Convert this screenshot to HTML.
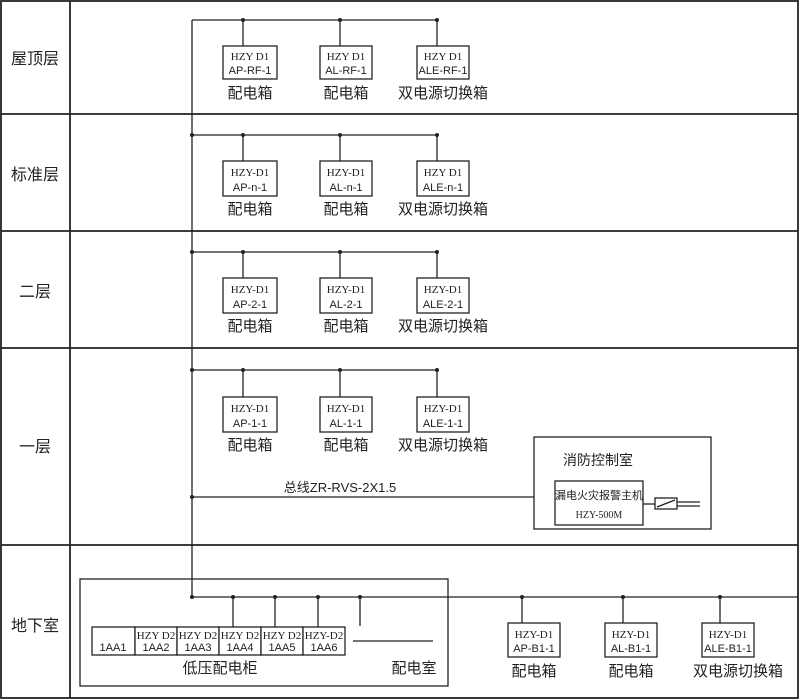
<!DOCTYPE html>
<html><head><meta charset="utf-8"><style>
html,body{margin:0;padding:0;background:#fff;}
svg{display:block;}
text{font-family:"Liberation Sans","Noto Sans CJK SC",sans-serif;fill:#222;}
.s{font-family:"Liberation Serif","Noto Serif CJK SC",serif;font-size:11px;}
.n{font-size:11px;}
.c{font-size:15px;}
.f{font-size:16px;}
</style></head><body>
<svg width="800" height="700" viewBox="0 0 800 700" xmlns="http://www.w3.org/2000/svg">
<g stroke="#222" stroke-width="1.8" fill="none">
<rect x="1" y="1" width="797" height="697"/>
<line x1="70" y1="1" x2="70" y2="698"/>
<line x1="1" y1="114" x2="798" y2="114"/>
<line x1="1" y1="231" x2="798" y2="231"/>
<line x1="1" y1="348" x2="798" y2="348"/>
<line x1="1" y1="545" x2="798" y2="545"/>
</g>
<g stroke="#222" stroke-width="1.3" fill="none">
<line x1="192" y1="20" x2="192" y2="597"/>
<line x1="192" y1="20" x2="437" y2="20"/>
<line x1="192" y1="135" x2="437" y2="135"/>
<line x1="192" y1="252" x2="437" y2="252"/>
<line x1="192" y1="370" x2="437" y2="370"/>
<line x1="192" y1="497" x2="555" y2="497"/>
<line x1="192" y1="597" x2="798" y2="597"/>
</g>
<g fill="#222">
<circle cx="243" cy="20" r="2"/><circle cx="340" cy="20" r="2"/><circle cx="437" cy="20" r="2"/>
<circle cx="192" cy="135" r="2"/><circle cx="243" cy="135" r="2"/><circle cx="340" cy="135" r="2"/><circle cx="437" cy="135" r="2"/>
<circle cx="192" cy="252" r="2"/><circle cx="243" cy="252" r="2"/><circle cx="340" cy="252" r="2"/><circle cx="437" cy="252" r="2"/>
<circle cx="192" cy="370" r="2"/><circle cx="243" cy="370" r="2"/><circle cx="340" cy="370" r="2"/><circle cx="437" cy="370" r="2"/>
<circle cx="192" cy="497" r="2"/>
<circle cx="192" cy="597" r="2"/><circle cx="233" cy="597" r="2"/><circle cx="275" cy="597" r="2"/><circle cx="318" cy="597" r="2"/><circle cx="360" cy="597" r="2"/>
<circle cx="522" cy="597" r="2"/><circle cx="623" cy="597" r="2"/><circle cx="720" cy="597" r="2"/>
</g>
<g stroke="#222" stroke-width="1.3" fill="#fff">
<line x1="243" y1="20" x2="243" y2="46"/><line x1="340" y1="20" x2="340" y2="46"/><line x1="437" y1="20" x2="437" y2="46"/>
<rect x="223" y="46" width="54" height="33"/><rect x="320" y="46" width="52" height="33"/><rect x="417" y="46" width="52" height="33"/>
<line x1="243" y1="135" x2="243" y2="161"/><line x1="340" y1="135" x2="340" y2="161"/><line x1="437" y1="135" x2="437" y2="161"/>
<rect x="223" y="161" width="54" height="35"/><rect x="320" y="161" width="52" height="35"/><rect x="417" y="161" width="52" height="35"/>
<line x1="243" y1="252" x2="243" y2="278"/><line x1="340" y1="252" x2="340" y2="278"/><line x1="437" y1="252" x2="437" y2="278"/>
<rect x="223" y="278" width="54" height="35"/><rect x="320" y="278" width="52" height="35"/><rect x="417" y="278" width="52" height="35"/>
<line x1="243" y1="370" x2="243" y2="397"/><line x1="340" y1="370" x2="340" y2="397"/><line x1="437" y1="370" x2="437" y2="397"/>
<rect x="223" y="397" width="54" height="35"/><rect x="320" y="397" width="52" height="35"/><rect x="417" y="397" width="52" height="35"/>
<rect x="534" y="437" width="177" height="92"/>
<rect x="555" y="481" width="88" height="44"/>
<line x1="643" y1="504" x2="655" y2="504"/>
<rect x="655" y="498" width="22" height="11"/>
<line x1="657" y1="507" x2="675" y2="500"/>
<line x1="677" y1="502" x2="700" y2="502"/><line x1="677" y1="506" x2="700" y2="506"/>
<rect x="80" y="579" width="368" height="107" fill="none"/>
<line x1="233" y1="597" x2="233" y2="627"/><line x1="275" y1="597" x2="275" y2="627"/><line x1="318" y1="597" x2="318" y2="627"/><line x1="360" y1="597" x2="360" y2="626"/>
<rect x="92" y="627" width="43" height="28"/><rect x="135" y="627" width="42" height="28"/><rect x="177" y="627" width="42" height="28"/><rect x="219" y="627" width="42" height="28"/><rect x="261" y="627" width="42" height="28"/><rect x="303" y="627" width="42" height="28"/>
<line x1="353" y1="641" x2="433" y2="641"/>
<line x1="522" y1="597" x2="522" y2="623"/><line x1="623" y1="597" x2="623" y2="623"/><line x1="720" y1="597" x2="720" y2="623"/>
<rect x="508" y="623" width="52" height="34"/><rect x="605" y="623" width="52" height="34"/><rect x="702" y="623" width="52" height="34"/>
</g>
<g text-anchor="middle">
<text x="35" y="64" class="f">屋顶层</text>
<text x="35" y="180" class="f">标准层</text>
<text x="35" y="297" class="f">二层</text>
<text x="35" y="452" class="f">一层</text>
<text x="35" y="631" class="f">地下室</text>

<text x="250" y="60" class="s">HZY D1</text><text x="250" y="74" class="n">AP-RF-1</text>
<text x="346" y="60" class="s">HZY D1</text><text x="346" y="74" class="n">AL-RF-1</text>
<text x="443" y="60" class="s">HZY D1</text><text x="443" y="74" class="n">ALE-RF-1</text>
<text x="250" y="98" class="c">配电箱</text><text x="346" y="98" class="c">配电箱</text><text x="443" y="98" class="c">双电源切换箱</text>

<text x="250" y="176" class="s">HZY-D1</text><text x="250" y="191" class="n">AP-n-1</text>
<text x="346" y="176" class="s">HZY-D1</text><text x="346" y="191" class="n">AL-n-1</text>
<text x="443" y="176" class="s">HZY D1</text><text x="443" y="191" class="n">ALE-n-1</text>
<text x="250" y="214" class="c">配电箱</text><text x="346" y="214" class="c">配电箱</text><text x="443" y="214" class="c">双电源切换箱</text>

<text x="250" y="293" class="s">HZY-D1</text><text x="250" y="308" class="n">AP-2-1</text>
<text x="346" y="293" class="s">HZY-D1</text><text x="346" y="308" class="n">AL-2-1</text>
<text x="443" y="293" class="s">HZY-D1</text><text x="443" y="308" class="n">ALE-2-1</text>
<text x="250" y="331" class="c">配电箱</text><text x="346" y="331" class="c">配电箱</text><text x="443" y="331" class="c">双电源切换箱</text>

<text x="250" y="412" class="s">HZY-D1</text><text x="250" y="427" class="n">AP-1-1</text>
<text x="346" y="412" class="s">HZY-D1</text><text x="346" y="427" class="n">AL-1-1</text>
<text x="443" y="412" class="s">HZY-D1</text><text x="443" y="427" class="n">ALE-1-1</text>
<text x="250" y="450" class="c">配电箱</text><text x="346" y="450" class="c">配电箱</text><text x="443" y="450" class="c">双电源切换箱</text>

<text x="340" y="492" style="font-size:13px">总线ZR-RVS-2X1.5</text>
<text x="598" y="465" style="font-size:14px">消防控制室</text>
<text x="599" y="499" style="font-size:11px">漏电火灾报警主机</text>
<text x="599" y="518" class="s" style="font-size:10px">HZY-500M</text>

<text x="113" y="651" class="n">1AA1</text>
<text x="156" y="639" class="s">HZY D2</text><text x="156" y="651" class="n">1AA2</text>
<text x="198" y="639" class="s">HZY D2</text><text x="198" y="651" class="n">1AA3</text>
<text x="240" y="639" class="s">HZY D2</text><text x="240" y="651" class="n">1AA4</text>
<text x="282" y="639" class="s">HZY D2</text><text x="282" y="651" class="n">1AA5</text>
<text x="324" y="639" class="s">HZY-D2</text><text x="324" y="651" class="n">1AA6</text>
<text x="220" y="673" class="c">低压配电柜</text>
<text x="414" y="673" class="c">配电室</text>

<text x="534" y="638" class="s">HZY-D1</text><text x="534" y="652" class="n">AP-B1-1</text>
<text x="631" y="638" class="s">HZY-D1</text><text x="631" y="652" class="n">AL-B1-1</text>
<text x="728" y="638" class="s">HZY-D1</text><text x="728" y="652" class="n">ALE-B1-1</text>
<text x="534" y="676" class="c">配电箱</text><text x="631" y="676" class="c">配电箱</text><text x="738" y="676" class="c">双电源切换箱</text>
</g>
</svg>
</body></html>
